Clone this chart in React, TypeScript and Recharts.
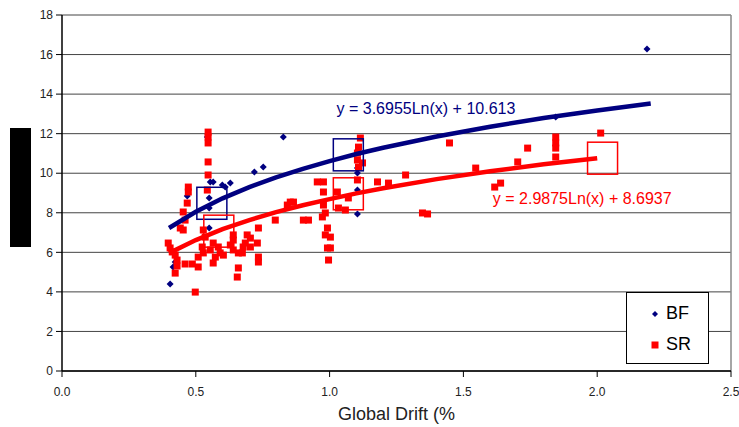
import {
  ScatterChart, Scatter, XAxis, YAxis, CartesianGrid, ReferenceLine, ReferenceDot, Legend
} from 'recharts'

const xTicks = [0, 0.5, 1, 1.5, 2, 2.5]
const yTicks = [0, 2, 4, 6, 8, 10, 12, 14, 16, 18]

const seriesNames = ['BF', 'SR']

// BF points
const bfPoints = [
  { x: 0.404, y: 4.4 }, { x: 0.415, y: 5.26 }, { x: 0.423, y: 5.51 }, { x: 0.468, y: 8.85 },
  { x: 0.543, y: 11.83 }, { x: 0.55, y: 8.75 }, { x: 0.55, y: 8.24 }, { x: 0.55, y: 7.23 },
  { x: 0.554, y: 9.56 }, { x: 0.565, y: 9.56 }, { x: 0.599, y: 9.4 }, { x: 0.61, y: 9.3 },
  { x: 0.629, y: 9.5 }, { x: 0.719, y: 10.06 }, { x: 0.752, y: 10.31 }, { x: 0.827, y: 11.83 },
  { x: 1.104, y: 10.26 }, { x: 1.104, y: 10.01 }, { x: 1.104, y: 9.15 }, { x: 1.104, y: 7.94 },
  { x: 1.845, y: 12.84 }, { x: 2.186, y: 16.28 },
]

// SR points
const srPoints = [
  { x: 0.397, y: 6.47 }, { x: 0.404, y: 6.22 }, { x: 0.412, y: 6.02 }, { x: 0.423, y: 5.86 },
  { x: 0.43, y: 5.61 }, { x: 0.43, y: 5.31 }, { x: 0.423, y: 4.95 }, { x: 0.442, y: 7.23 },
  { x: 0.453, y: 7.13 }, { x: 0.453, y: 8.04 }, { x: 0.46, y: 7.63 }, { x: 0.468, y: 8.49 },
  { x: 0.472, y: 9.3 }, { x: 0.472, y: 9.05 }, { x: 0.46, y: 5.41 }, { x: 0.487, y: 5.41 },
  { x: 0.498, y: 3.99 }, { x: 0.509, y: 5.26 }, { x: 0.509, y: 5.76 }, { x: 0.524, y: 6.27 },
  { x: 0.528, y: 5.97 }, { x: 0.528, y: 7.13 }, { x: 0.535, y: 6.77 }, { x: 0.546, y: 12.08 },
  { x: 0.546, y: 11.83 }, { x: 0.546, y: 11.53 }, { x: 0.546, y: 10.57 }, { x: 0.546, y: 9.91 },
  { x: 0.543, y: 9.15 }, { x: 0.565, y: 6.47 }, { x: 0.584, y: 6.27 }, { x: 0.591, y: 5.97 },
  { x: 0.573, y: 5.76 }, { x: 0.603, y: 5.86 }, { x: 0.565, y: 5.46 }, { x: 0.554, y: 6.12 },
  { x: 0.64, y: 6.88 }, { x: 0.64, y: 6.62 }, { x: 0.629, y: 6.37 }, { x: 0.64, y: 6.12 },
  { x: 0.659, y: 5.97 }, { x: 0.674, y: 5.97 }, { x: 0.677, y: 6.27 }, { x: 0.685, y: 6.47 },
  { x: 0.692, y: 6.88 }, { x: 0.704, y: 6.72 }, { x: 0.659, y: 5.21 }, { x: 0.655, y: 4.75 },
  { x: 0.704, y: 6.27 }, { x: 0.73, y: 6.47 }, { x: 0.734, y: 7.23 }, { x: 0.734, y: 5.76 },
  { x: 0.734, y: 5.51 }, { x: 0.797, y: 7.63 }, { x: 0.853, y: 8.54 }, { x: 0.865, y: 8.54 },
  { x: 0.842, y: 8.39 }, { x: 0.902, y: 7.63 }, { x: 0.921, y: 7.63 }, { x: 0.954, y: 9.56 },
  { x: 0.977, y: 9.56 }, { x: 0.977, y: 9.05 }, { x: 0.973, y: 7.79 }, { x: 0.992, y: 7.23 },
  { x: 0.984, y: 6.88 }, { x: 1.003, y: 6.77 }, { x: 1.003, y: 6.22 }, { x: 0.992, y: 6.22 },
  { x: 0.996, y: 5.61 }, { x: 0.977, y: 8.39 }, { x: 0.984, y: 7.99 }, { x: 1.029, y: 9.05 },
  { x: 1.033, y: 8.24 }, { x: 1.059, y: 8.14 }, { x: 1.07, y: 8.75 }, { x: 1.115, y: 11.78 },
  { x: 1.108, y: 11.32 }, { x: 1.104, y: 11.02 }, { x: 1.104, y: 10.67 }, { x: 1.123, y: 10.52 },
  { x: 1.108, y: 10.31 }, { x: 1.104, y: 9.66 }, { x: 1.179, y: 9.56 }, { x: 1.22, y: 9.5 },
  { x: 1.284, y: 9.91 }, { x: 1.347, y: 7.99 }, { x: 1.366, y: 7.94 }, { x: 1.448, y: 11.53 },
  { x: 1.546, y: 10.26 }, { x: 1.617, y: 9.3 }, { x: 1.639, y: 9.5 }, { x: 1.703, y: 10.57 },
  { x: 1.74, y: 11.27 }, { x: 1.845, y: 11.83 }, { x: 1.845, y: 11.53 }, { x: 1.845, y: 11.27 },
  { x: 1.845, y: 10.82 }, { x: 2.013, y: 12.03 },
]

// group means (hollow boxes)
const bfMeans = [{ x: 0.56, y: 8.48 }, { x: 1.07, y: 10.93 }]
const srMeans = [{ x: 0.586, y: 7.07 }, { x: 1.07, y: 8.96 }, { x: 2.02, y: 10.76 }]

// log trend lines
const bfTrend = [
  { x: 0.4, y: 7.23 }, { x: 0.5, y: 8.05 }, { x: 0.6, y: 8.73 }, { x: 0.7, y: 9.3 },
  { x: 0.8, y: 9.79 }, { x: 0.9, y: 10.22 }, { x: 1.0, y: 10.61 }, { x: 1.1, y: 10.97 },
  { x: 1.2, y: 11.29 }, { x: 1.4, y: 11.86 }, { x: 1.6, y: 12.35 }, { x: 1.8, y: 12.79 },
  { x: 2.0, y: 13.17 }, { x: 2.2, y: 13.53 },
]
const srTrend = [
  { x: 0.4, y: 5.96 }, { x: 0.5, y: 6.62 }, { x: 0.6, y: 7.17 }, { x: 0.7, y: 7.63 },
  { x: 0.8, y: 8.03 }, { x: 0.9, y: 8.38 }, { x: 1.0, y: 8.69 }, { x: 1.1, y: 8.98 },
  { x: 1.2, y: 9.24 }, { x: 1.4, y: 9.7 }, { x: 1.6, y: 10.1 }, { x: 1.8, y: 10.45 },
  { x: 2.0, y: 10.76 },
]

const bfEquation = 'y = 3.6955Ln(x) + 10.613'
const srEquation = 'y = 2.9875Ln(x) + 8.6937'

const BLUE = '#000080'
const RED = '#ff0000'
const FONT = '"Liberation Sans", Arial, sans-serif'

const Diamond = ({ cx, cy }: any) => (
  <polygon points={`${cx},${cy - 3.5} ${cx + 3.5},${cy} ${cx},${cy + 3.5} ${cx - 3.5},${cy}`} fill={BLUE} />
)
const Square = ({ cx, cy }: any) => <rect x={cx - 3.5} y={cy - 3.5} width={7} height={7} fill={RED} />
const Box = (color: string) => ({ cx, cy }: any) => (
  <rect x={cx - 15} y={cy - 16} width={30} height={32} fill="none" stroke={color} strokeWidth={1.5} />
)
const Nothing = () => <g />

const LegendBox = () => (
  <div style={{
    width: 83, height: 72, boxSizing: 'border-box', border: '1px solid #000', background: '#fff',
    fontFamily: FONT, fontSize: 18, color: '#000', paddingTop: 5,
  }}>
    {seriesNames.map((n, i) => (
      <div key={n} style={{ display: 'flex', alignItems: 'center', height: 31, paddingLeft: 23 }}>
        <svg width={14} height={10}>
          {i === 0
            ? <polygon points="5,2 8,5 5,8 2,5" fill={BLUE} />
            : <rect x={1.5} y={1.5} width={7} height={7} fill={RED} />}
        </svg>
        <span style={{ marginLeft: 2 }}>{n}</span>
      </div>
    ))}
  </div>
)

export default function App() {
  return (
    <div style={{ position: 'absolute', left: 0, top: 0, width: 739, height: 427, background: '#fff' }}>
      <ScatterChart width={739} height={427} margin={{ top: 15, right: 8, bottom: 0, left: 12 }}>
        <CartesianGrid vertical={false} stroke="#444" horizontalValues={yTicks} />
        <XAxis
          type="number" dataKey="x" domain={[0, 2.5]} ticks={xTicks} allowDataOverflow
          tickFormatter={(v) => Number(v).toFixed(1)} height={56}
          tick={{ fill: '#222', fontSize: 12, fontFamily: FONT }} tickMargin={10}
          axisLine={{ stroke: '#000', strokeWidth: 1.5 }} tickLine={{ stroke: '#000' }}
          label={{ value: 'Global Drift (%', position: 'insideBottom', offset: 7, fill: '#222', fontSize: 18, fontFamily: FONT }}
        />
        <YAxis
          type="number" dataKey="y" domain={[0, 18]} ticks={yTicks} allowDataOverflow width={50}
          tick={{ fill: '#222', fontSize: 12, fontFamily: FONT }} tickMargin={3}
          axisLine={{ stroke: '#000', strokeWidth: 1.5 }} tickLine={{ stroke: '#000' }}
        />
        <ReferenceLine x={2.5} stroke="#888" strokeWidth={1.5} />
        <Scatter name="BF" data={bfPoints} shape={<Diamond />} isAnimationActive={false} />
        <Scatter name="SR" data={srPoints} shape={<Square />} isAnimationActive={false} />
        <Scatter data={bfMeans} shape={Box(BLUE)} legendType="none" isAnimationActive={false} />
        <Scatter data={srMeans} shape={Box(RED)} legendType="none" isAnimationActive={false} />
        <Scatter data={bfTrend} line={{ stroke: BLUE, strokeWidth: 4.5 }} lineType="joint" shape={<Nothing />} legendType="none" isAnimationActive={false} />
        <Scatter data={srTrend} line={{ stroke: RED, strokeWidth: 4.5 }} lineType="joint" shape={<Nothing />} legendType="none" isAnimationActive={false} />
        <ReferenceDot x={1.36} y={13.3} r={0} stroke="none"
          label={{ value: bfEquation, position: 'center', fill: BLUE, fontSize: 16, fontFamily: FONT }} />
        <ReferenceDot x={1.944} y={8.75} r={0} stroke="none"
          label={{ value: srEquation, position: 'center', fill: RED, fontSize: 16, fontFamily: FONT }} />
        <Legend layout="vertical" align="center" verticalAlign="middle" content={<LegendBox />}
          wrapperStyle={{ left: 626, top: 292, width: 83, height: 72 }} />
      </ScatterChart>
      <div style={{ position: 'absolute', left: 10, top: 128, width: 21, height: 119, background: '#000' }} />
    </div>
  )
}
